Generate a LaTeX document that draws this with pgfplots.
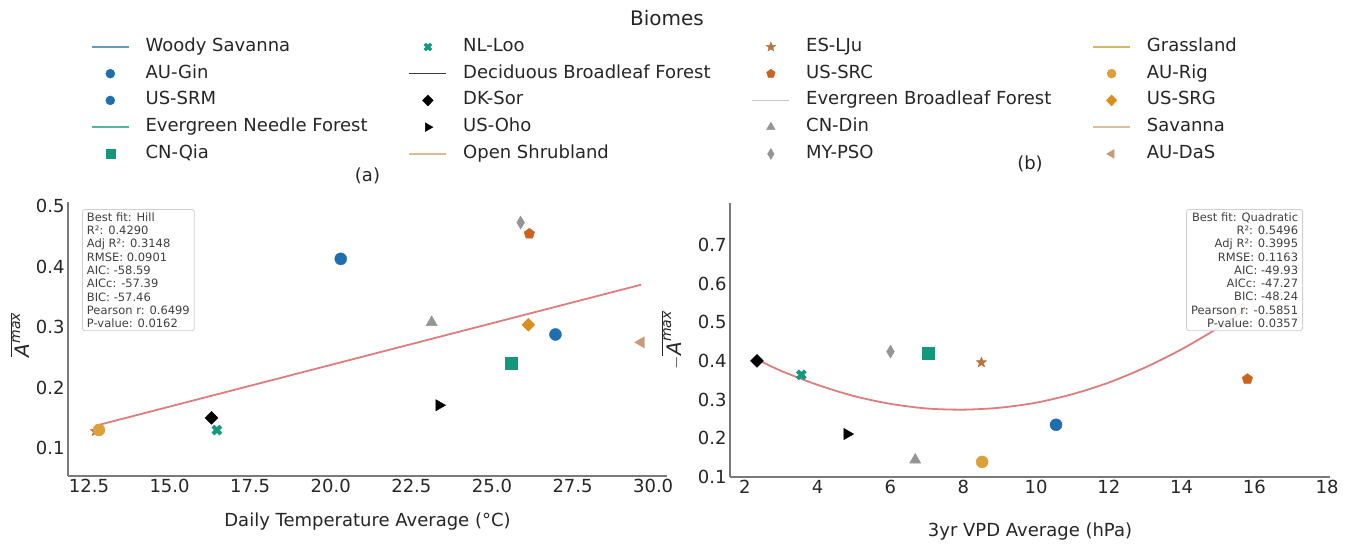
\documentclass[border=0pt]{standalone}
\usepackage{fontspec}
\setmainfont{DejaVu Sans}
\usepackage{pgfplots}
\pgfplotsset{compat=1.18}
\usetikzlibrary{plotmarks}

\definecolor{cBlue}{HTML}{1F6FAE}
\definecolor{cGreen}{HTML}{12987A}
\definecolor{cES}{HTML}{B9733F}
\definecolor{cSRC}{HTML}{CC6421}
\definecolor{cGray}{HTML}{959595}
\definecolor{cRig}{HTML}{DBA03A}
\definecolor{cSRG}{HTML}{DB8F1A}
\definecolor{cDaS}{HTML}{C99A74}
\definecolor{lWS}{HTML}{5E9DC6}
\definecolor{lENF}{HTML}{52B8A2}
\definecolor{lDBF}{HTML}{3A3A3A}
\definecolor{lOS}{HTML}{E3B98E}
\definecolor{lEBF}{HTML}{C6C6C6}
\definecolor{lGR}{HTML}{D8B85C}
\definecolor{lSV}{HTML}{DCC09C}
\definecolor{fitc}{HTML}{E07C7C}
\definecolor{spine}{HTML}{7A7A7A}
\definecolor{tickc}{HTML}{262626}
\definecolor{boxedge}{HTML}{CFCFCF}

\pgfdeclareplotmark{fstar}{%
  \pgfpathmoveto{\pgfpointpolar{90}{\pgfplotmarksize}}%
  \pgfpathlineto{\pgfpointpolar{126}{0.42\pgfplotmarksize}}%
  \pgfpathlineto{\pgfpointpolar{162}{\pgfplotmarksize}}%
  \pgfpathlineto{\pgfpointpolar{198}{0.42\pgfplotmarksize}}%
  \pgfpathlineto{\pgfpointpolar{234}{\pgfplotmarksize}}%
  \pgfpathlineto{\pgfpointpolar{270}{0.42\pgfplotmarksize}}%
  \pgfpathlineto{\pgfpointpolar{306}{\pgfplotmarksize}}%
  \pgfpathlineto{\pgfpointpolar{342}{0.42\pgfplotmarksize}}%
  \pgfpathlineto{\pgfpointpolar{18}{\pgfplotmarksize}}%
  \pgfpathlineto{\pgfpointpolar{54}{0.42\pgfplotmarksize}}%
  \pgfpathclose
  \pgfusepathqfillstroke
}
\pgfdeclareplotmark{fX}{%
  \pgfpathmoveto{\pgfqpoint{-0.5\pgfplotmarksize}{-\pgfplotmarksize}}%
  \pgfpathlineto{\pgfqpoint{0pt}{-0.5\pgfplotmarksize}}%
  \pgfpathlineto{\pgfqpoint{0.5\pgfplotmarksize}{-\pgfplotmarksize}}%
  \pgfpathlineto{\pgfqpoint{\pgfplotmarksize}{-0.5\pgfplotmarksize}}%
  \pgfpathlineto{\pgfqpoint{0.5\pgfplotmarksize}{0pt}}%
  \pgfpathlineto{\pgfqpoint{\pgfplotmarksize}{0.5\pgfplotmarksize}}%
  \pgfpathlineto{\pgfqpoint{0.5\pgfplotmarksize}{\pgfplotmarksize}}%
  \pgfpathlineto{\pgfqpoint{0pt}{0.5\pgfplotmarksize}}%
  \pgfpathlineto{\pgfqpoint{-0.5\pgfplotmarksize}{\pgfplotmarksize}}%
  \pgfpathlineto{\pgfqpoint{-\pgfplotmarksize}{0.5\pgfplotmarksize}}%
  \pgfpathlineto{\pgfqpoint{-0.5\pgfplotmarksize}{0pt}}%
  \pgfpathlineto{\pgfqpoint{-\pgfplotmarksize}{-0.5\pgfplotmarksize}}%
  \pgfpathclose
  \pgfusepathqfillstroke
}

\pgfplotsset{
  common/.style={
    scale only axis, height=274pt,
    axis x line*=bottom, axis y line*=left,
    axis line style={draw=spine, line width=1.3pt, -},
    major tick length=0pt,
    tick label style={font=\fontsize{18}{18}\selectfont, text=tickc},
    /pgf/number format/assume math mode=true,
    label style={font=\fontsize{18}{18}\selectfont, text=tickc},
    title style={font=\fontsize{18}{18}\selectfont, text=tickc},
    clip=false,
  },
}
\tikzset{
  statbox/.style={draw=boxedge, line width=0.8pt, rounded corners=2.5pt,
    fill=white, fill opacity=0.85, text opacity=1, text=black!75,
    font=\fontsize{11.5}{13.3}\selectfont, inner xsep=4.5pt, inner ysep=3pt},
}

\newcommand{\Amax}{\overline{\mbox{\fontsize{20}{20}\selectfont\itshape A}^{\mbox{\fontsize{14}{14}\selectfont\itshape max}}}}

\begin{document}
\begin{tikzpicture}
\path[use as bounding box] (0,0) rectangle (1354pt,548pt);
\node[font=\fontsize{20}{20}\selectfont, text=tickc] at (667pt,530pt) {Biomes};

% ---------------- (a) ----------------
\begin{axis}[common,
  at={(68pt,72pt)}, anchor=south west, width=599pt,
  xmin=11.85, xmax=30.43, ymin=0.054, ymax=0.507,
  xtick={12.5,15,17.5,20,22.5,25,27.5,30},
  ytick={0.1,0.2,0.3,0.4,0.5},
  xticklabel style={/pgf/number format/.cd, fixed, fixed zerofill, precision=1},
  yticklabel style={/pgf/number format/.cd, fixed, fixed zerofill, precision=1},
  xlabel={Daily Temperature Average (°C)},
  xlabel style={at={(axis description cs:0.5,-0.168)}, anchor=center},
  ylabel={$\Amax$},
  ylabel style={at={(axis description cs:-0.080,0.515)}, anchor=center},
  title={(a)},
  title style={at={(axis description cs:0.5,1.075)}, anchor=center},
  legend columns=4,
  legend image code/.code={\draw[mark repeat=2,mark phase=2,#1] plot coordinates {(0pt,0pt) (18.5pt,0pt) (37pt,0pt)};},
  legend style={at={(axis description cs:0.0384,1.597)}, anchor=north west,
    draw=none, fill=none, inner sep=0pt, outer sep=0pt,
    font=\fontsize{18}{18}\selectfont, text=tickc,
    nodes={inner sep=0pt, text height=13pt, text depth=4pt},
    cells={anchor=west}, row sep=9.75pt,
    /tikz/every odd column/.append style={column sep=16pt},
    /tikz/every even column/.append style={column sep=41pt}},
]
% legend (row-wise order of a column-major 5x4 legend)
\addlegendimage{no marks, lWS, line width=1.6pt}\addlegendentry{Woody Savanna}
\addlegendimage{only marks, mark=fX, cGreen, mark size=4pt}\addlegendentry{NL-Loo}
\addlegendimage{only marks, mark=fstar, cES, mark size=5pt}\addlegendentry{ES-LJu}
\addlegendimage{no marks, lGR, line width=1.6pt}\addlegendentry{Grassland}

\addlegendimage{only marks, mark=*, cBlue, mark size=4.5pt}\addlegendentry{AU-Gin}
\addlegendimage{no marks, lDBF, line width=1.6pt}\addlegendentry{Deciduous Broadleaf Forest}
\addlegendimage{only marks, mark=pentagon*, cSRC, mark size=4.5pt}\addlegendentry{US-SRC}
\addlegendimage{only marks, mark=*, cRig, mark size=4.5pt}\addlegendentry{AU-Rig}

\addlegendimage{only marks, mark=*, cBlue, mark size=4.5pt}\addlegendentry{US-SRM}
\addlegendimage{only marks, mark=diamond*, black, mark size=5.5pt, mark options={xscale=1.3}}\addlegendentry{DK-Sor}
\addlegendimage{no marks, lEBF, line width=1.6pt}\addlegendentry{Evergreen Broadleaf Forest}
\addlegendimage{only marks, mark=diamond*, cSRG, mark size=5.5pt, mark options={xscale=1.3}}\addlegendentry{US-SRG}

\addlegendimage{no marks, lENF, line width=1.6pt}\addlegendentry{Evergreen Needle Forest}
\addlegendimage{only marks, mark=triangle*, black, mark size=5pt, mark options={rotate=-90}}\addlegendentry{US-Oho}
\addlegendimage{only marks, mark=triangle*, cGray, mark size=5pt}\addlegendentry{CN-Din}
\addlegendimage{no marks, lSV, line width=1.6pt}\addlegendentry{Savanna}

\addlegendimage{only marks, mark=square*, cGreen, mark size=4.5pt}\addlegendentry{CN-Qia}
\addlegendimage{no marks, lOS, line width=1.6pt}\addlegendentry{Open Shrubland}
\addlegendimage{only marks, mark=diamond*, cGray, mark size=5.5pt, mark options={xscale=0.8}}\addlegendentry{MY-PSO}
\addlegendimage{only marks, mark=triangle*, cDaS, mark size=5pt, mark options={rotate=90}}\addlegendentry{AU-DaS}

% fit (Hill)
\addplot[forget plot, fitc, line width=1.8pt, no marks] coordinates {(12.70,0.137) (21.0,0.2514) (29.63,0.3703)};
% sites
\addplot[forget plot, only marks, mark=fstar, cES, mark size=5.5pt] coordinates {(12.70,0.128)};
\addplot[forget plot, only marks, mark=*, cRig, mark size=6pt] coordinates {(12.81,0.130)};
\addplot[forget plot, only marks, mark=*, cBlue, mark size=6pt] coordinates {(20.31,0.413)};
\addplot[forget plot, only marks, mark=*, cBlue, mark size=6pt] coordinates {(26.97,0.288)};
\addplot[forget plot, only marks, mark=square*, cGreen, mark size=6pt] coordinates {(25.60,0.241)};
\addplot[forget plot, only marks, mark=fX, cGreen, mark size=5pt] coordinates {(16.47,0.130)};
\addplot[forget plot, only marks, mark=diamond*, black, mark size=6.5pt, mark options={xscale=1.33}] coordinates {(16.30,0.150)};
\addplot[forget plot, only marks, mark=triangle*, black, mark size=6.5pt, mark options={rotate=-90}] coordinates {(23.36,0.171)};
\addplot[forget plot, only marks, mark=triangle*, cGray, mark size=6.5pt] coordinates {(23.13,0.308)};
\addplot[forget plot, only marks, mark=diamond*, cGray, mark size=6.5pt, mark options={xscale=0.8}] coordinates {(25.89,0.473)};
\addplot[forget plot, only marks, mark=pentagon*, cSRC, mark size=5.5pt] coordinates {(26.16,0.4545)};
\addplot[forget plot, only marks, mark=diamond*, cSRG, mark size=6.5pt, mark options={xscale=1.33}] coordinates {(26.13,0.304)};
\addplot[forget plot, only marks, mark=triangle*, cDaS, mark size=6.5pt, mark options={rotate=90}] coordinates {(29.63,0.275)};

\node[statbox, anchor=north west, align=left] at (rel axis cs:0.0234,0.974)
 {Best fit: Hill\\R²: 0.4290\\Adj R²: 0.3148\\RMSE: 0.0901\\AIC: -58.59\\AICc: -57.39\\BIC: -57.46\\Pearson r: 0.6499\\P-value: 0.0162};
\end{axis}

% ---------------- (b) ----------------
\begin{axis}[common,
  at={(730pt,71pt)}, anchor=south west, width=600pt,
  xmin=1.59, xmax=18.08, ymin=0.1, ymax=0.808,
  xtick={2,4,6,8,10,12,14,16,18},
  ytick={0.1,0.2,0.3,0.4,0.5,0.6,0.7},
  yticklabel style={/pgf/number format/.cd, fixed, fixed zerofill, precision=1},
  xlabel={3yr VPD Average (hPa)},
  xlabel style={at={(axis description cs:0.5,-0.2007)}, anchor=center},
  ylabel={$-\Amax$},
  ylabel style={at={(axis description cs:-0.0967,0.5)}, anchor=center},
  title={(b)},
  title style={at={(axis description cs:0.5,1.12)}, anchor=center},
]
\addplot[forget plot, fitc, line width=1.8pt, no marks, smooth] coordinates {
 (2.33,0.404) (3,0.374) (4,0.338) (5,0.309) (6,0.289) (7,0.277) (8,0.274)
 (9,0.279) (10,0.292) (11,0.314) (12,0.344) (13,0.383) (14,0.430) (15,0.485) (15.8,0.535)};
\addplot[forget plot, only marks, mark=fX, cGreen, mark size=5pt] coordinates {(3.55,0.364)};
\addplot[forget plot, only marks, mark=diamond*, black, mark size=6.5pt, mark options={xscale=1.33}] coordinates {(2.33,0.400)};
\addplot[forget plot, only marks, mark=diamond*, cGray, mark size=6.5pt, mark options={xscale=0.8}] coordinates {(6.00,0.424)};
\addplot[forget plot, only marks, mark=square*, cGreen, mark size=6pt] coordinates {(7.03,0.421)};
\addplot[forget plot, only marks, mark=fstar, cES, mark size=5.5pt] coordinates {(8.50,0.396)};
\addplot[forget plot, only marks, mark=pentagon*, cSRC, mark size=5.5pt] coordinates {(15.81,0.353)};
\addplot[forget plot, only marks, mark=*, cBlue, mark size=6pt] coordinates {(10.55,0.235)};
\addplot[forget plot, only marks, mark=triangle*, black, mark size=6.5pt, mark options={rotate=-90}] coordinates {(4.81,0.211)};
\addplot[forget plot, only marks, mark=triangle*, cGray, mark size=6.5pt] coordinates {(6.68,0.144)};
\addplot[forget plot, only marks, mark=*, cRig, mark size=6pt] coordinates {(8.52,0.139)};

\node[statbox, anchor=north east, align=right] at (rel axis cs:0.955,0.978)
 {Best fit: Quadratic\\R²: 0.5496\\Adj R²: 0.3995\\RMSE: 0.1163\\AIC: -49.93\\AICc: -47.27\\BIC: -48.24\\Pearson r: -0.5851\\P-value: 0.0357};
\end{axis}
\end{tikzpicture}
\end{document}
